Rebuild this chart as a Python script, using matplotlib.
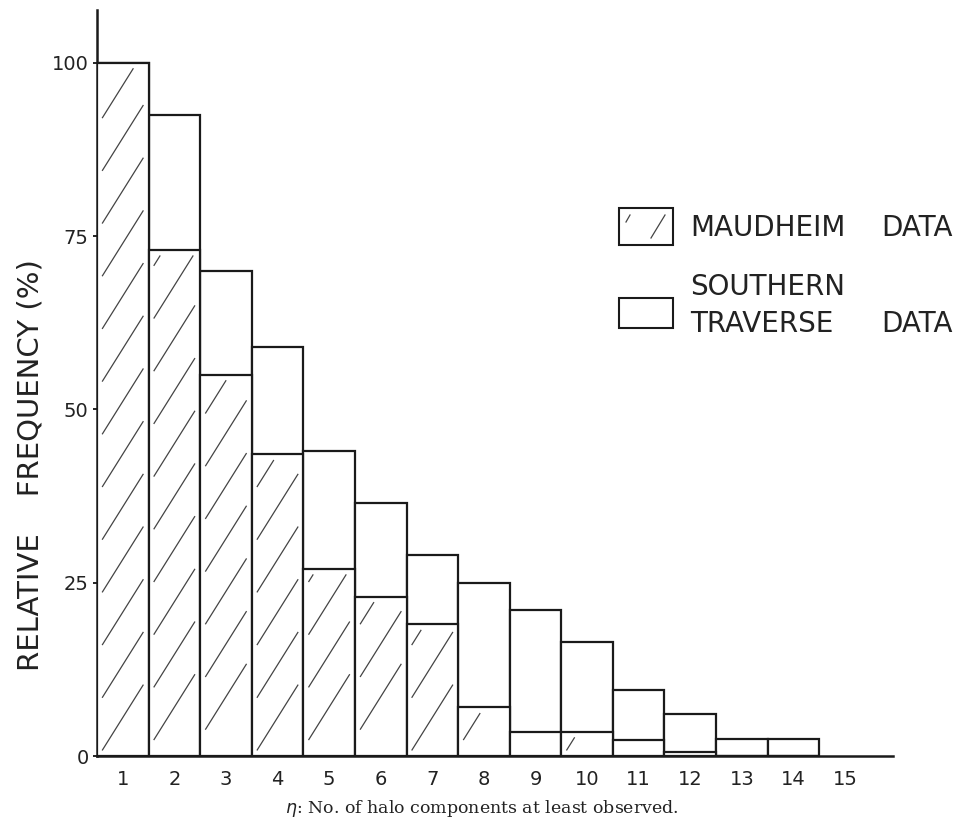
import matplotlib.pyplot as plt
from matplotlib.patches import Rectangle
from matplotlib.collections import LineCollection

# number of halo components (x) and relative frequency (%)
eta = list(range(1, 15))
southern = [100, 92.5, 70, 59, 44, 36.5, 29, 25, 21, 16.5, 9.5, 6, 2.5, 2.5]
maudheim = [100, 73, 55, 43.5, 27, 23, 19, 7, 3.5, 3.5, 2.3, 0.6, 0, 0]
xticks = list(range(1, 16))
yticks = [0, 25, 50, 75, 100]

plt.rcParams['font.family'] = ['DejaVu Sans']
ink = '#1a1a1a'

fig = plt.figure(figsize=(9.63, 8.34), dpi=100)
ax = fig.add_axes([0.1007, 0.0935, 0.8266, 0.8945])

lw = 1.6
ax.bar(eta, southern, width=1.0, color='white', edgecolor=ink, linewidth=lw, zorder=2)
mbars = ax.bar(eta, maudheim, width=1.0, color='white', edgecolor=ink, linewidth=lw, zorder=3)

# sparse hand-drawn style hatch: one slanted stroke per row inside each bar
rise = 9.5
step = 7.6
for i, b in enumerate(mbars):
    h = b.get_height()
    if h < 1.0:
        continue
    xa = b.get_x() + 0.1
    xb = b.get_x() + 0.9
    segs = []
    y0 = 0.8 + (i % 3) * 1.5
    while y0 < h - 0.8:
        y1 = y0 + rise
        x1 = xb
        if y1 > h - 0.8:
            frac = (h - 0.8 - y0) / rise
            x1 = xa + frac * (xb - xa)
            y1 = h - 0.8
        segs.append([(xa, y0), (x1, y1)])
        y0 += step
    lc = LineCollection(segs, colors='#444444', linewidths=0.9, zorder=4)
    ax.add_collection(lc)

ax.set_xlim(0.5, 15.93)
ax.set_ylim(0, 107.6)
ax.spines['top'].set_visible(False)
ax.spines['right'].set_visible(False)
for s in ['left', 'bottom']:
    ax.spines[s].set_linewidth(1.8)
    ax.spines[s].set_color(ink)

ax.set_xticks(xticks)
ax.set_xticklabels([str(t) for t in xticks], fontsize=14, color='#222222')
ax.set_yticks(yticks)
ax.set_yticklabels([str(t) for t in yticks], fontsize=14, color='#222222')
ax.tick_params(axis='x', length=0, pad=10)
ax.tick_params(axis='y', length=3, width=1.2, pad=3)

ax.set_ylabel('RELATIVE    FREQUENCY (%)', fontsize=21, color='#222222')
ax.yaxis.set_label_coords(-0.066, 0.39)

# legend drawn by hand in figure pixels
W, H = 963, 834
def fx(px):
    return px / W
def fy(py):
    return 1 - py / H

box1 = Rectangle((fx(619), fy(245)), 54 / W, 37 / H, transform=fig.transFigure,
                 facecolor='white', edgecolor=ink, linewidth=1.5)
box2 = Rectangle((fx(619), fy(328)), 54 / W, 30 / H, transform=fig.transFigure,
                 facecolor='white', edgecolor=ink, linewidth=1.5)
fig.patches.extend([box1, box2])
fig.lines.append(plt.Line2D([fx(626), fx(630)], [fy(222), fy(215)], transform=fig.transFigure,
                            color='#444444', linewidth=0.9))
fig.lines.append(plt.Line2D([fx(651), fx(665)], [fy(238), fy(215)], transform=fig.transFigure,
                            color='#444444', linewidth=0.9))

lab = dict(fontsize=20, color='#222222', va='center', transform=fig.transFigure)
fig.text(fx(690), fy(228), 'MAUDHEIM', ha='left', **lab)
fig.text(fx(953), fy(228), 'DATA', ha='right', **lab)
fig.text(fx(690), fy(287), 'SOUTHERN', ha='left', **lab)
fig.text(fx(690), fy(324), 'TRAVERSE', ha='left', **lab)
fig.text(fx(953), fy(324), 'DATA', ha='right', **lab)

fig.text(0.5, 0.031, r'$\eta$: No. of halo components at least observed.',
         ha='center', va='center', fontsize=12.5, family='DejaVu Serif', color='#222222')

fig.savefig('out.png', dpi=100)
